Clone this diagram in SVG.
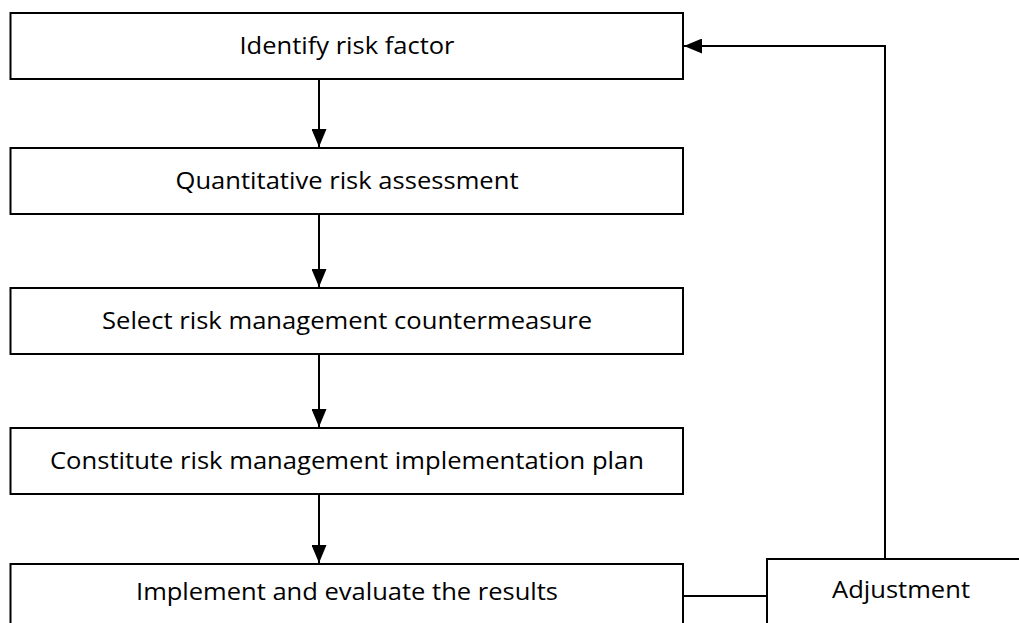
<svg xmlns="http://www.w3.org/2000/svg" width="1019" height="623" viewBox="0 0 1019 623">
<defs>
<marker id="arr" markerWidth="18" markerHeight="15" refX="18" refY="7.5" orient="auto" markerUnits="userSpaceOnUse">
<path d="M0,0 L18,7.5 L0,15 Z" fill="#000"/>
</marker>
<style>
.box{fill:#fff;stroke:#000;stroke-width:2}
.lbl{font-family:"Open Sans","Liberation Sans",sans-serif;font-size:24px;fill:#000;text-anchor:middle}
.conn{fill:none;stroke:#000;stroke-width:2}
</style>
</defs>
<rect width="1019" height="623" fill="#fff"/>
<g id="n1"><rect class="box" x="10.5" y="13" width="672.5" height="66"/><text class="lbl" x="347" y="54" textLength="215" lengthAdjust="spacingAndGlyphs">Identify risk factor</text></g>
<g id="n2"><rect class="box" x="10.5" y="148" width="672.5" height="66"/><text class="lbl" x="347" y="189" textLength="343" lengthAdjust="spacingAndGlyphs">Quantitative risk assessment</text></g>
<g id="n3"><rect class="box" x="10.5" y="288" width="672.5" height="66"/><text class="lbl" x="347" y="329" textLength="490" lengthAdjust="spacingAndGlyphs">Select risk management countermeasure</text></g>
<g id="n4"><rect class="box" x="10.5" y="428" width="672.5" height="66"/><text class="lbl" x="347" y="469" textLength="594" lengthAdjust="spacingAndGlyphs">Constitute risk management implementation plan</text></g>
<g id="n5"><rect class="box" x="10.5" y="564" width="672.5" height="80"/><text class="lbl" x="347" y="600" textLength="422" lengthAdjust="spacingAndGlyphs">Implement and evaluate the results</text></g>
<g id="n6"><rect class="box" x="767" y="559" width="280" height="80"/><text class="lbl" x="901" y="598" textLength="138" lengthAdjust="spacingAndGlyphs">Adjustment</text></g>
<g id="connectors">
<line class="conn" x1="319" y1="79" x2="319" y2="147" marker-end="url(#arr)"/>
<line class="conn" x1="319" y1="214" x2="319" y2="287" marker-end="url(#arr)"/>
<line class="conn" x1="319" y1="354" x2="319" y2="427" marker-end="url(#arr)"/>
<line class="conn" x1="319" y1="494" x2="319" y2="563" marker-end="url(#arr)"/>
<line class="conn" x1="683" y1="596" x2="767" y2="596"/>
<polyline class="conn" points="885,559 885,46 684,46" marker-end="url(#arr)"/>
</g>
</svg>
